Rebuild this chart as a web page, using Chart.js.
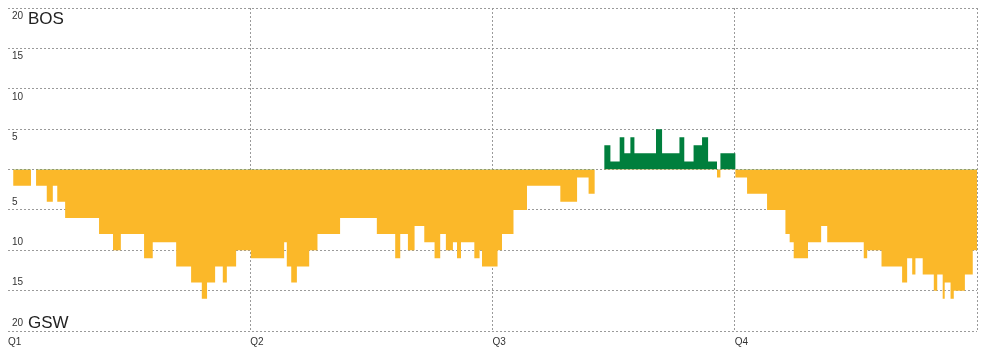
<!DOCTYPE html>
<html>
<head>
<meta charset="utf-8">
<script src="https://cdn.jsdelivr.net/npm/chart.js@4"></script>
<style>
  body { margin: 0; background: #fff; }
  #wrap { width: 984px; height: 352px; }
</style>
</head>
<body>
<div id="wrap"><canvas id="leadChart"></canvas></div>
<script>
// game clock in minutes (start of each step) and the score margin (+ BOS, - GSW)
const times = [
    0, 0.26, 1.14, 1.39, 1.92, 2.22, 2.44, 2.83, 4.51, 5.20, 5.59, 6.74, 7.17, 8.33,
    9.07, 9.60, 9.86, 10.26, 10.64, 10.84, 11.30, 12.03, 13.68, 13.81, 14.03, 14.31,
    14.92, 15.33, 16.45, 18.27, 19.18, 19.43, 19.81, 20.14, 20.62, 21.13, 21.41,
    21.69, 22.04, 22.24, 22.44, 23.10, 23.36, 23.48, 24.25, 24.47, 25.04, 25.71,
    27.36, 28.19, 28.76, 29.06, 29.54, 29.84, 30.30, 30.53, 30.83, 31.03, 32.10,
    32.40, 33.26, 33.50, 33.96, 34.38, 34.68, 35.12, 35.29, 36.03, 36.61, 37.60,
    38.51, 38.72, 38.92, 39.63, 40.28, 40.58, 42.39, 42.56, 43.27, 44.29, 44.54,
    44.79, 44.95, 45.31, 45.86, 46.03, 46.30, 46.40, 46.69, 46.85, 47.40, 47.79, 48
];
const margins = [
    0, -2, 0, -2, -4, -2, -4, -6, -8, -10, -8, -11, -9, -12,
    -14, -16, -14, -12, -14, -12, -10, -11, -9, -12, -14, -12,
    -10, -8, -6, -8, -11, -8, -10, -7, -9, -11, -8,
    -10, -9, -11, -9, -11, -10, -12, -10, -8, -5, -2,
    -4, -1, -3, 0, 3, 1, 4, 2, 4, 2, 5,
    2, 4, 1, 3, 4, 1, -1, 2, -1, -3, -5,
    -8, -9, -11, -9, -7, -9, -11, -10, -12, -14, -11,
    -13, -11, -13, -15, -13, -16, -14, -16, -15, -13, -10, -10
];
const quarterLabels = ['Q1', 'Q2', 'Q3', 'Q4'];
const teamLabels = ['BOS', 'GSW'];

const points = times.map((t, i) => ({ x: t, y: margins[i] }));

const gridColor = '#9a9a9a';
const fontFamily = '"Liberation Sans", Arial, sans-serif';

const teamLabelPlugin = {
    id: 'teamLabels',
    afterDraw(chart) {
        const { ctx, chartArea, scales } = chart;
        const y = scales.y;
        ctx.save();
        ctx.font = '17px ' + fontFamily;
        ctx.fillStyle = '#222';
        ctx.textBaseline = 'middle';
        ctx.fillText(teamLabels[0], chartArea.left + 20, y.getPixelForValue(20) + 11);
        ctx.fillText(teamLabels[1], chartArea.left + 20, y.getPixelForValue(-20) - 8);
        ctx.restore();
    }
};

const flatAxis = axis => {
    axis.width = 0;
    axis.paddingTop = 0;
    axis.paddingBottom = 0;
};

const config = {
    type: 'line',
    data: {
        datasets: [{
            data: points,
            stepped: 'before',
            borderWidth: 0,
            borderColor: 'rgba(0,0,0,0)',
            pointRadius: 0,
            fill: {
                target: 'origin',
                above: '#007f3d',
                below: '#fbb829'
            }
        }]
    },
    options: {
        responsive: true,
        maintainAspectRatio: false,
        animation: false,
        layout: { padding: { left: 8, right: 7, top: 8, bottom: 4 } },
        plugins: {
            legend: { display: false },
            tooltip: { enabled: false }
        },
        scales: {
            x: {
                type: 'linear',
                min: 0,
                max: 48,
                afterBuildTicks: axis => {
                    axis.ticks = [0, 12, 24, 36, 48].map(v => ({ value: v }));
                },
                afterFit: axis => { axis.height = 17; },
                grid: {
                    color: ctx => ctx.tick && ctx.tick.value === 0 ? 'rgba(0,0,0,0)' : gridColor,
                    drawTicks: false
                },
                border: { display: false, dash: [2, 2] },
                ticks: {
                    align: 'start',
                    padding: 5,
                    maxRotation: 0,
                    autoSkip: false,
                    color: '#333',
                    font: { family: fontFamily, size: 10 },
                    callback: value => quarterLabels[value / 12] || ''
                }
            },
            y: {
                min: -20,
                max: 20,
                position: 'left',
                afterFit: flatAxis,
                grid: { color: gridColor, drawTicks: false },
                border: { display: false, dash: [2, 2] },
                ticks: {
                    stepSize: 5,
                    mirror: true,
                    padding: 4,
                    labelOffset: 8,
                    color: '#333',
                    font: { family: fontFamily, size: 10 },
                    callback: value => value > 0 ? String(value) : ''
                }
            },
            y2: {
                min: -20,
                max: 20,
                position: 'left',
                afterFit: flatAxis,
                grid: { display: false, drawTicks: false },
                border: { display: false },
                ticks: {
                    stepSize: 5,
                    mirror: true,
                    padding: 4,
                    labelOffset: -8,
                    color: '#333',
                    font: { family: fontFamily, size: 10 },
                    callback: value => value < 0 ? String(-value) : ''
                }
            }
        }
    },
    plugins: [teamLabelPlugin]
};

new Chart(document.getElementById('leadChart'), config);
</script>
</body>
</html>
